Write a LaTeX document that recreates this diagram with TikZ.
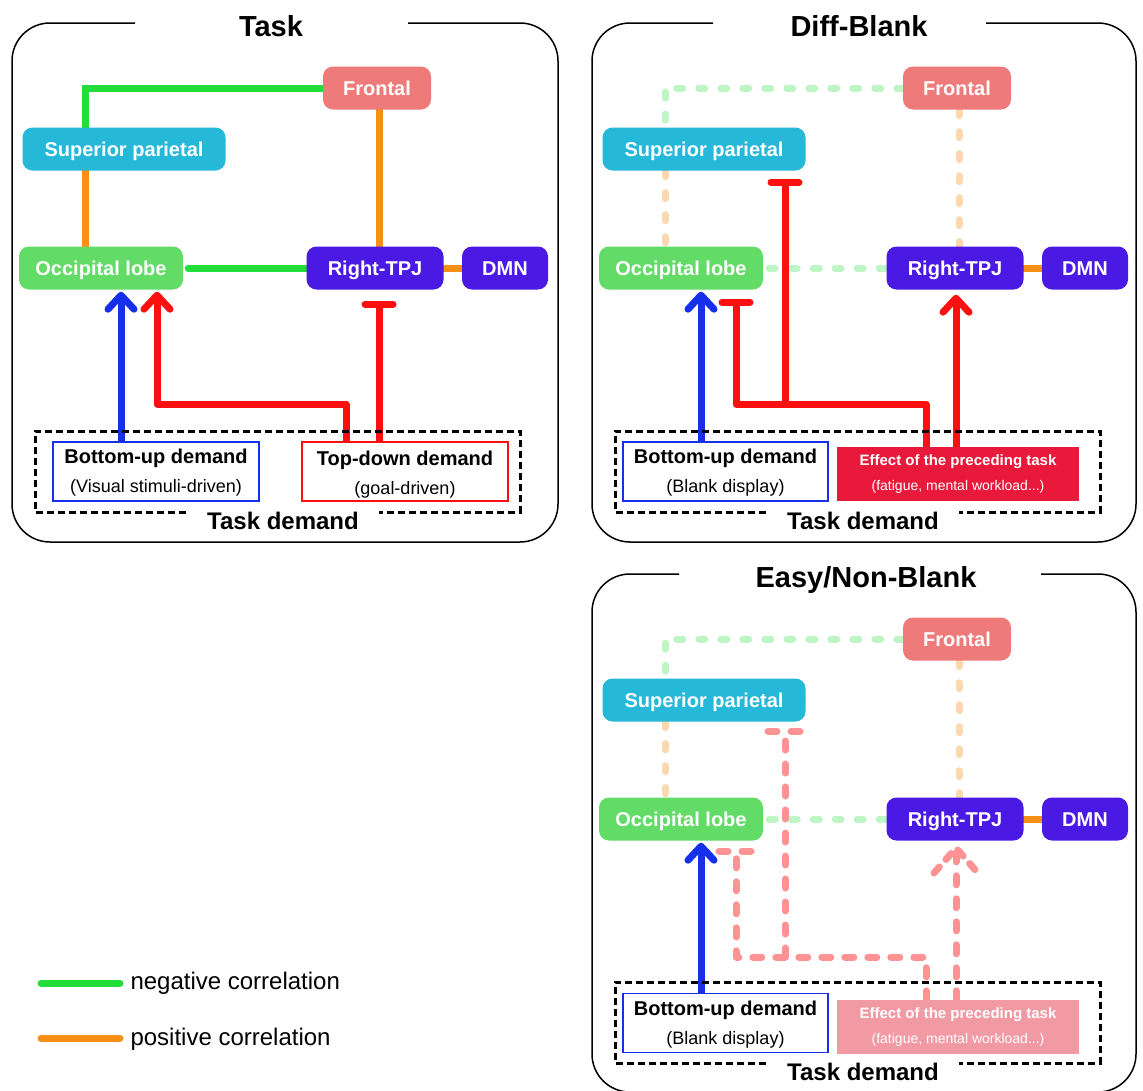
\documentclass[tikz,border=0pt]{standalone}
\usepackage{fontspec}
\setmainfont{Liberation Sans}
\usetikzlibrary{arrows.meta}
\pgfdeclarelayer{bottomlayer}
\pgfdeclarelayer{background}
\pgfsetlayers{bottomlayer,background,main}
\definecolor{cfront}{RGB}{238,122,122}
\definecolor{csup}{RGB}{38,184,216}
\definecolor{cocc}{RGB}{98,220,102}
\definecolor{ctpj}{RGB}{74,25,228}
\definecolor{cneg}{RGB}{34,221,58}
\definecolor{cpos}{RGB}{248,144,24}
\definecolor{cblue}{RGB}{21,48,232}
\definecolor{cred}{RGB}{255,16,16}
\definecolor{ceff}{RGB}{232,25,58}
\definecolor{ceffl}{RGB}{242,154,164}
\tikzset{
  region/.style={rounded corners=10pt, inner sep=0pt, text=white,
    font=\fontsize{20}{24}\selectfont\bfseries, minimum height=43pt,
    text height=14.5pt, text depth=0pt},
  negcor/.style={cneg, line width=7pt, line cap=round},
  poscor/.style={cpos, line width=7pt, line cap=round},
  negl/.style={cneg!30, line width=7pt, line cap=round, dash pattern=on 6pt off 16pt},
  posl/.style={cpos!35, line width=7pt, line cap=round, dash pattern=on 6pt off 16pt},
  redl/.style={cred!45, line width=7pt, line cap=round, line join=round, dash pattern=on 9pt off 14pt},
  actarrow/.style={line width=7pt, line join=round, -{Straight Barb[length=14pt,width=26pt,round]}},
  inharrow/.style={line width=7pt, line join=round, -{Bar[width=28pt,round]}},
  panelframe/.style={line width=1.5pt, rounded corners=38pt},
  demandframe/.style={line width=3pt, dash pattern=on 7pt off 4pt},
  dbox/.style={fill=white, line width=1.5pt, minimum height=59pt, inner sep=0pt},
  ebox/.style={minimum height=54pt, inner sep=0pt, minimum width=242pt},
  ptitle/.style={anchor=base, font=\fontsize{29}{34}\selectfont\bfseries},
  tdtext/.style={anchor=base, font=\fontsize{24}{28}\selectfont\bfseries},
  dmain/.style={anchor=base, font=\fontsize{20}{24}\selectfont\bfseries},
  dsub/.style={anchor=base, font=\fontsize{18}{22}\selectfont},
  emain/.style={anchor=base, text=white, font=\fontsize{15}{18}\selectfont\bfseries},
  esub/.style={anchor=base, text=white, font=\fontsize{14}{17}\selectfont},
  legtext/.style={anchor=base west, font=\fontsize{24}{28}\selectfont},
}
\newcommand\BrainNodes[1]{%
  \node[region, fill=cfront, minimum width=108pt] (#1-fr) at (377,88) {Frontal};
  \node[region, fill=csup, minimum width=203pt] (#1-sp) at (124,149) {Superior parietal};
  \node[region, fill=cocc, minimum width=164pt] (#1-oc) at (101,268) {Occipital lobe};
  \node[region, fill=ctpj, minimum width=137pt] (#1-tp) at (375,268) {Right-TPJ};
  \node[region, fill=ctpj, minimum width=86pt] (#1-dm) at (505,268) {DMN};
}
\newcommand\LightLinks[1]{%
  \begin{pgfonlayer}{background}
  \draw[negl] (#1-fr.west) -| (85,0 |- #1-sp.north);
  \draw[posl] (#1-sp.south -| 85,0) -- (#1-oc.north -| 85,0);
  \draw[posl] (#1-fr.south -| 379,0) -- (#1-tp.north -| 379,0);
  \draw[negl] ([xshift=6pt]#1-oc.east) -- (#1-tp.west);
  \draw[poscor] (#1-tp.east) -- (#1-dm.west);
  \end{pgfonlayer}
}
\newcommand\DemandFrame[1]{%
  \draw[demandframe] (186,512) -- (35,512) -- (35,431) -- (520,431) -- (520,512) -- (379,512);
  \node[tdtext] (#1-tdl) at (283,529) {Task demand};
}
\begin{document}
\begin{tikzpicture}[x=1pt, y=-1pt]
\useasboundingbox (0,0) rectangle (1143,1090);
\begin{pgfonlayer}{bottomlayer}
\fill[white] (0,0) rectangle (1143,1090);
\end{pgfonlayer}

% ---------------- Panel A: Task ----------------
\draw[panelframe] (135,23) -- (12,23) -- (12,542) -- (558,542) -- (558,23) -- (408,23);
\node[ptitle] (a-title) at (271,36) {Task};
\BrainNodes{a}
\begin{pgfonlayer}{background}
  \draw[negcor] (a-fr.west) -| (85,0 |- a-sp.north);
  \draw[poscor] (a-sp.south -| 85,0) -- (a-oc.north -| 85,0);
  \draw[poscor] (a-fr.south -| 379,0) -- (a-tp.north -| 379,0);
  \draw[negcor] ([xshift=5pt]a-oc.east) -- (a-tp.west);
  \draw[poscor] (a-tp.east) -- (a-dm.west);
\end{pgfonlayer}
\DemandFrame{a}
\node[dbox, draw=cblue, minimum width=206pt] (a-bu) at (156,471.5) {};
\node[dbox, draw=cred, minimum width=206pt] (a-td) at (405,471.5) {};
\node[dmain] (a-bu1) at (156,463) {Bottom-up demand};
\node[dsub] (a-bu2) at (156,492) {(Visual stimuli-driven)};
\node[dmain] (a-td1) at (405,465) {Top-down demand};
\node[dsub] (a-td2) at (405,494) {(goal-driven)};
\begin{pgfonlayer}{background}
  \draw[actarrow, cblue, shorten >=2pt] (a-bu.north -| 121,0) -- (a-oc.south -| 121,0);
  \draw[actarrow, cred, shorten >=2pt] (a-td.north -| 346,0) |- (157,404) -- (a-oc.south -| 157,0);
  \draw[inharrow, cred, shorten >=11pt] (a-td.north -| 379,0) -- (a-tp.south -| 379,0);
\end{pgfonlayer}

% ---------------- Panel B: Diff-Blank ----------------
\begin{scope}[shift={(580,0)}]
\draw[panelframe] (133,23) -- (12,23) -- (12,542) -- (556,542) -- (556,23) -- (406,23);
\node[ptitle] (b-title) at (279,36) {Diff-Blank};
\BrainNodes{b}
\LightLinks{b}
\DemandFrame{b}
\node[dbox, draw=cblue, minimum width=205pt] (b-bu) at (145.5,471.5) {};
\node[ebox, fill=ceff] (b-ef) at (378,474) {};
\node[dmain] (b-bu1) at (145.5,463) {Bottom-up demand};
\node[dsub] (b-bu2) at (145.5,492) {(Blank display)};
\node[emain] (b-ef1) at (378,465) {Effect of the preceding task};
\node[esub] (b-ef2) at (378,490) {(fatigue, mental workload...)};
\coordinate (b-j) at (205,404);
\begin{pgfonlayer}{background}
  \draw[actarrow, cblue, shorten >=2pt] (b-bu.north -| 121,0) -- (b-oc.south -| 121,0);
  \draw[inharrow, cred, shorten >=9pt] (b-ef.north -| 346,0) |- (156,404) -- (b-oc.south -| 156,0);
  \draw[inharrow, cred, shorten >=8pt] (b-j) -- (b-sp.south -| 205,0);
  \draw[actarrow, cred, shorten >=5pt] (b-ef.north -| 376,0) -- (b-tp.south -| 376,0);
\end{pgfonlayer}
\end{scope}

% ---------------- Panel C: Easy/Non-Blank ----------------
\begin{scope}[shift={(580,551)}]
\draw[panelframe] (99,23) -- (12,23) -- (12,541) -- (556,541) -- (556,23) -- (461,23);
\node[ptitle] (c-title) at (286,36) {Easy/Non-Blank};
\BrainNodes{c}
\LightLinks{c}
\DemandFrame{c}
\node[dbox, draw=cblue, minimum width=205pt] (c-bu) at (145.5,472) {};
\node[ebox, fill=ceffl] (c-ef) at (378,476) {};
\node[dmain] (c-bu1) at (145.5,464) {Bottom-up demand};
\node[dsub] (c-bu2) at (145.5,493) {(Blank display)};
\node[emain] (c-ef1) at (378,467) {Effect of the preceding task};
\node[esub] (c-ef2) at (378,492) {(fatigue, mental workload...)};
\coordinate (c-j) at (205,406);
\coordinate (c-t1) at (156,300);
\coordinate (c-t2) at (205,180);
\coordinate (c-tip) at (376,297);
\coordinate (c-al) at (354,322);
\coordinate (c-ar) at (398,322);
\begin{pgfonlayer}{background}
  \draw[actarrow, cblue, shorten >=2pt] (c-bu.north -| 121,0) -- (c-oc.south -| 121,0);
  \draw[redl] (c-ef.north -| 346,0) |- (156,406) -- (c-t1);
  \draw[redl] ([xshift=-17pt]c-t1) -- ([xshift=17pt]c-t1);
  \draw[redl] (c-j) -- (c-t2);
  \draw[redl] ([xshift=-17pt]c-t2) -- ([xshift=17pt]c-t2);
  \draw[redl] (c-ef.north -| 376,0) -- (c-tip);
  \draw[redl, dash pattern=on 8pt off 10pt] (c-al) -- (c-tip) -- (c-ar);
\end{pgfonlayer}
\end{scope}

% ---------------- Legend ----------------
\node[legtext] (lg-neg) at (127,989) {negative correlation};
\node[legtext] (lg-pos) at (127,1045) {positive correlation};
\draw[negcor, shorten >=7pt] (41,983) -- (lg-neg.west |- 0,983);
\draw[poscor, shorten >=7pt] (41,1038) -- (lg-pos.west |- 0,1038);
\end{tikzpicture}
\end{document}
